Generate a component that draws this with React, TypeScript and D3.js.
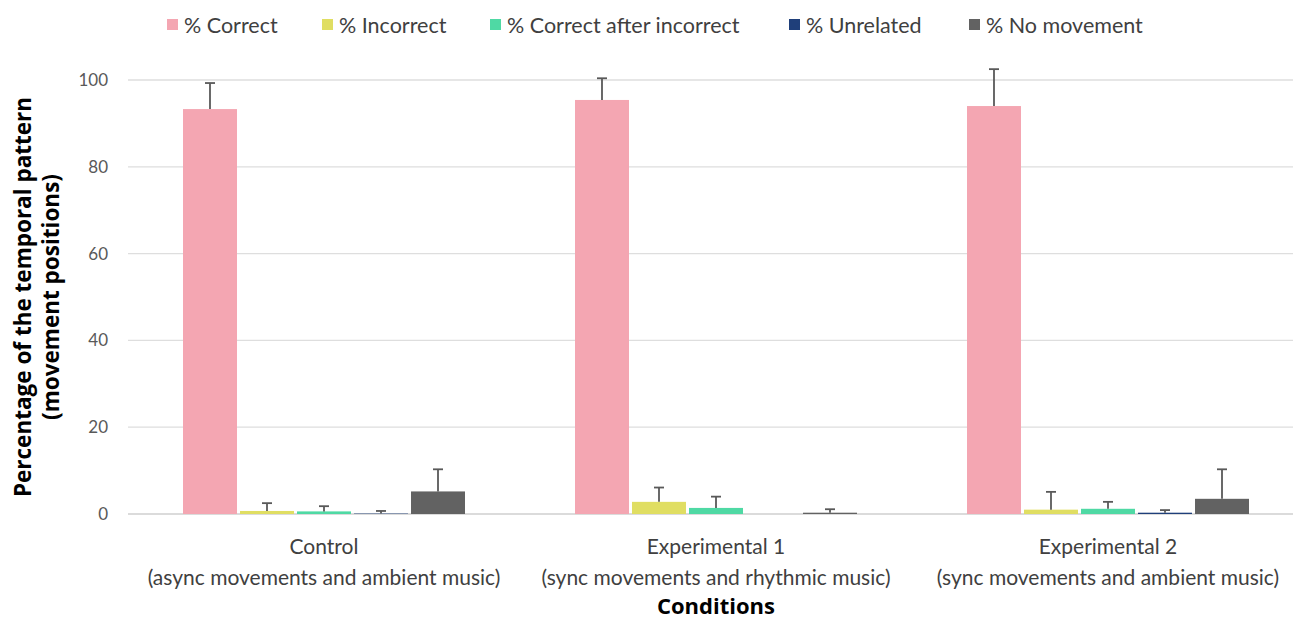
import React from "react";
import * as d3 from "d3";

const conditions = ["Control", "Experimental 1", "Experimental 2"];
const conditionNotes = [
  "(async movements and ambient music)",
  "(sync movements and rhythmic music)",
  "(sync movements and ambient music)",
];
const seriesNames = ["% Correct", "% Incorrect", "% Correct after incorrect", "% Unrelated", "% No movement"];
const seriesColors = ["#F4A6B2", "#E0DE62", "#4FD9A4", "#1F3F7A", "#626262"];

// Mean per condition (one array per series, columns follow conditions)
const correct = [93.3, 95.4, 94.0];
const incorrect = [0.7, 2.8, 1.0];
const correctAfterIncorrect = [0.6, 1.4, 1.2];
const unrelated = [0.1, 0.0, 0.3];
const noMovement = [5.2, 0.3, 3.5];

// Standard deviations (upper error bars)
const correctSd = [6.0, 5.0, 8.5];
const incorrectSd = [1.8, 3.3, 4.1];
const correctAfterIncorrectSd = [1.2, 2.6, 1.6];
const unrelatedSd = [0.6, 0.0, 0.6];
const noMovementSd = [5.1, 0.8, 6.8];

const yTicks = [0, 20, 40, 60, 80, 100];

const means = [correct, incorrect, correctAfterIncorrect, unrelated, noMovement];
const sds = [correctSd, incorrectSd, correctAfterIncorrectSd, unrelatedSd, noMovementSd];

const W = 1295;
const H = 621;
const FONT = "Lato, 'Open Sans', sans-serif";
const BOLD_FONT = "'Open Sans', 'Noto Sans', sans-serif";

export default function App() {
  const x0 = d3.scaleBand<string>().domain(conditions).range([128, 1304]).paddingInner(0).paddingOuter(0);
  const x1 = d3
    .scaleBand<string>()
    .domain(seriesNames)
    .range([0, x0.bandwidth()])
    .paddingInner(0.053)
    .paddingOuter(0.965);
  const y = d3.scaleLinear().domain([0, 100]).range([514, 80]);

  // legend slots: swatch, label, spacing
  const legendWidths = [100, 113, 244, 125, 163];
  const legendStarts: number[] = [];
  let cx = 167;
  legendWidths.forEach((w) => {
    legendStarts.push(cx);
    cx += 17 + w + 38;
  });

  return (
    <svg width={W} height={H} style={{ position: "absolute", left: 0, top: 0, background: "#fff" }}>
      {/* grid and y ticks */}
      {yTicks.map((t) => (
        <g key={t}>
          <line x1={128} x2={1293} y1={y(t)} y2={y(t)} stroke={t === 0 ? "#CFCFCF" : "#DEDEDE"} strokeWidth={1.3} />
          <text x={108} y={y(t)} dy="0.35em" textAnchor="end" fontFamily={FONT} fontSize={17} fill="#595959">
            {t}
          </text>
        </g>
      ))}

      {/* bars, error bars and category labels */}
      {conditions.map((c, ci) => (
        <g key={c} transform={`translate(${x0(c)},0)`}>
          {seriesNames.map((s, si) => {
            const v = means[si][ci];
            return (
              <rect
                key={s}
                x={x1(s)!}
                y={y(v)}
                width={x1.bandwidth()}
                height={y(0) - y(v)}
                fill={seriesColors[si]}
              />
            );
          })}
          {seriesNames.map((s, si) => {
            const v = means[si][ci];
            const e = sds[si][ci];
            if (e <= 0) return null;
            const mx = x1(s)! + x1.bandwidth() / 2;
            return (
              <g key={s + "-err"} stroke="#595959" strokeWidth={1.8}>
                <line x1={mx} x2={mx} y1={y(v)} y2={y(v + e)} />
                <line x1={mx - 5} x2={mx + 5} y1={y(v + e)} y2={y(v + e)} />
              </g>
            );
          })}
          <text x={x0.bandwidth() / 2} y={554} textAnchor="middle" fontFamily={FONT} fontSize={21} fill="#404040">
            {c}
          </text>
          <text x={x0.bandwidth() / 2} y={585} textAnchor="middle" fontFamily={FONT} fontSize={21} fill="#404040">
            {conditionNotes[ci]}
          </text>
        </g>
      ))}

      {/* axis titles */}
      <text x={716} y={614} textAnchor="middle" fontFamily={BOLD_FONT} fontSize={22} fontWeight="bold" fill="#000">
        Conditions
      </text>
      <g transform="translate(0,297) rotate(-90)">
        <text x={0} y={31} textAnchor="middle" fontFamily={BOLD_FONT} fontSize={22.5} fontWeight="bold" fill="#000">
          Percentage of the temporal pattern
        </text>
        <text x={0} y={59} textAnchor="middle" fontFamily={BOLD_FONT} fontSize={22.5} fontWeight="bold" fill="#000">
          (movement positions)
        </text>
      </g>

      {/* legend */}
      {seriesNames.map((s, i) => (
        <g key={s} transform={`translate(${legendStarts[i]},25)`}>
          <rect x={0} y={-6} width={11} height={11} fill={seriesColors[i]} />
          <text x={17} y={0} dy="0.35em" fontFamily={FONT} fontSize={21.5} fill="#404040">
            {s}
          </text>
        </g>
      ))}
    </svg>
  );
}
